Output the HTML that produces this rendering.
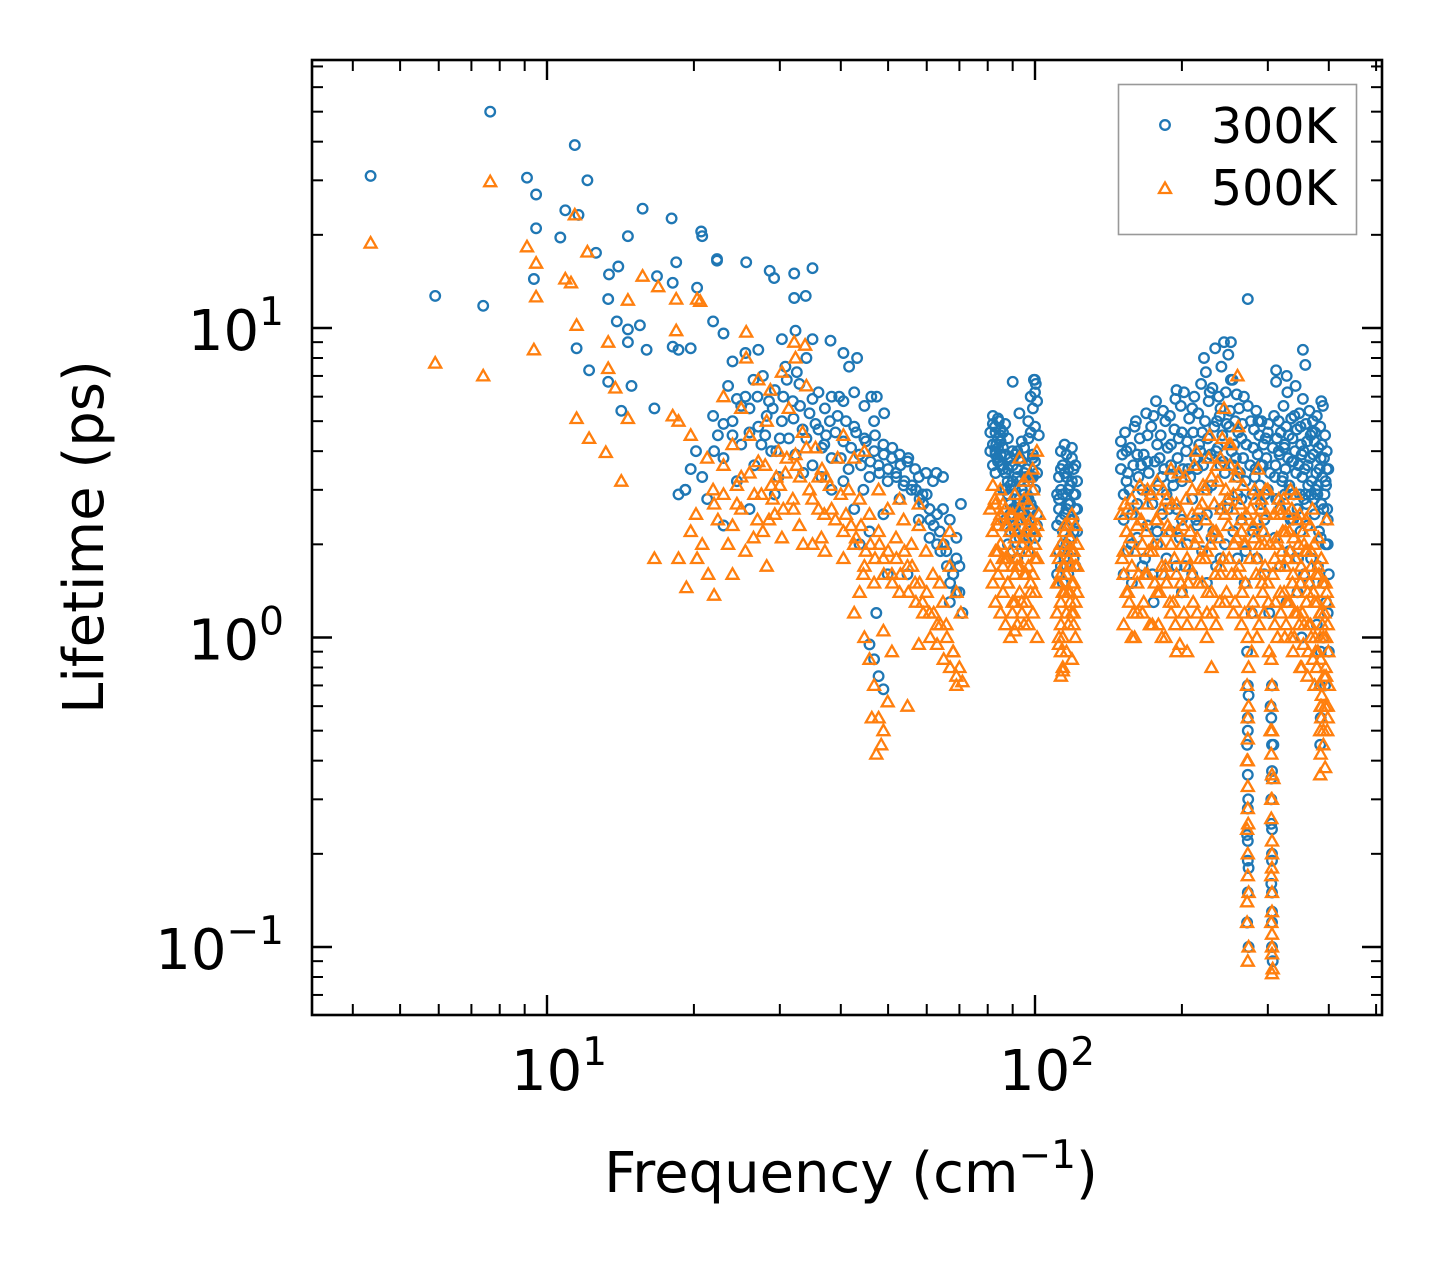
<!DOCTYPE html>
<html><head><meta charset="utf-8"><style>
html,body{margin:0;padding:0;background:#fff;}
svg{display:block;font-family:"DejaVu Sans","Liberation Sans",sans-serif;}
</style></head><body>
<svg id="chart" width="1442" height="1265" viewBox="0 0 1442 1265" xmlns="http://www.w3.org/2000/svg">
<rect width="1442" height="1265" fill="#fff"/>
<g id="marks"></g>
<g id="ticks"></g>
<rect x="312" y="60" width="1070" height="955" fill="none" stroke="#000" stroke-width="2.6"/>
<g id="labels" font-size="56" fill="#000"></g>
<text x="851" y="1192" font-size="56" text-anchor="middle">Frequency (cm<tspan dy="-24" font-size="39">−1</tspan><tspan dy="24">)</tspan></text>
<text transform="translate(103,537) rotate(-90)" font-size="56" text-anchor="middle">Lifetime (ps)</text>
<g>
<rect x="1118.5" y="84.5" width="238" height="150" fill="#fff" stroke="#999" stroke-width="1.6"/>
<circle cx="1165" cy="125" r="4.8" fill="none" stroke="#1f77b4" stroke-width="2.3"/>
<text x="1211" y="143" font-size="49">300K</text>
<polygon points="1165,182.5 1171,193 1159,193" fill="none" stroke="#ff7f0e" stroke-width="2.3"/>
<text x="1211" y="205" font-size="49">500K</text>
</g>
</svg>
<script>
const xMajorTicks = [10, 100];
const xMajorLabels = ["1", "2"];
const xMinorTicks = [4,5,6,7,8,9,20,30,40,50,60,70,80,90,200,300,400,500];
const yMajorTicks = [0.1, 1, 10];
const yMajorLabels = ["−1", "0", "1"];
const yMinorTicks = [0.07,0.08,0.09,0.2,0.3,0.4,0.5,0.6,0.7,0.8,0.9,2,3,4,5,6,7,8,9,20,30,40,50,60,70];

const blueSparse = [[4.35,31],[5.9,12.7],[7.4,11.8],[7.65,50],[9.1,30.6],[9.5,27],[9.4,14.4],[9.5,21],[10.65,19.6],[10.9,24],[11.4,39],[11.6,23.2],[11.5,8.6],[12.1,30],[12.2,7.3],[12.6,17.5],[13.4,14.9],[13.35,12.4],[14,15.8],[13.9,10.5],[13.35,6.7],[14.2,5.4],[14.65,9.9],[14.65,9.0],[15.7,24.3],[14.65,19.8],[16.8,14.7],[18.1,14],[18,22.6],[18.4,16.3],[20.3,13.5],[20.7,20.5],[20.8,19.8],[22.3,16.5],[22.3,16.7],[25.6,16.3],[28.6,15.3],[29.2,14.5],[32.1,15],[35,15.6],[32.1,12.5],[33.9,12.7],[35,9.2],[38.1,9.1],[40.5,8.3],[43.2,8],[41.6,7.5],[39.7,6],[46.2,6],[49.1,5.3],[47.4,6],[99.5,6.8],[90,6.7],[273,12.4],[252,9],[273,5.6],[354,8.5],[358,7.6],[312,7.3],[312,6.7]];
const blueLow = [[21.9,5.2],[22.4,4.5],[23,3.8],[23.5,6.5],[24,5],[24.5,3.2],[25,4.2],[25.5,6],[26,5.5],[26.6,3.6],[27.1,4.8],[27.7,7],[28.2,5.2],[28.8,4],[29.3,6.3],[29.8,3.3],[30.3,5],[30.8,7.5],[31.3,4.4],[31.9,5.8],[32.3,3.9],[32.9,6.6],[33.4,4.7],[34,8],[34.5,5.3],[35,3.6],[35.5,4.9],[36,6.2],[36.6,4.1],[37.1,5.5],[20.8,3.3],[20.2,4],[19.7,3.5],[19.2,3],[21.3,2.8],[23,2.3],[26,2.6],[29.3,2.9],[24,7.8],[27.1,8.5],[30.3,9.2],[32.3,9.8],[18.6,8.5],[19.7,8.6],[18.1,8.7],[21.9,10.5],[23,9.6],[25.5,8.3],[16.6,5.5],[16,8.5],[15.5,10.2],[14.9,6.5],[18.6,2.9],[19.2,3],
[37.3,4.5],[38.3,3.8],[39.4,5.2],[40.5,4.3],[41.5,3.5],[42.6,4.8],[43.7,3.9],[44.7,4.4],[45.8,3.3],[46.8,4],[47.8,3.6],[48.9,4.2],[49.9,3.2],[50.9,3.8],[51.9,3.4],[52.8,3.9],[53.8,3.1],[54.8,3.7],[55.8,3],[56.8,3.5],[57.8,3.3],[58.8,2.9],[59.8,3.4],[60.8,2.6],[61.8,3.2],[63,2.5],[38.3,6],[40.5,5.8],[42.6,6.2],[44.7,5.6],[46.8,5],[38.3,3],[42.6,2.6],[45.8,2.2],[48.9,2.5],[52.8,2.8],[57.8,2.4],[45.8,0.95],[46.8,0.85],[47.8,0.75],[48.9,0.68],[47.3,1.2],[49.9,1.6],[43.7,2],[54.8,1.6],[60.8,2.1],
[63.8,2.2],[64.8,2.6],[65.8,1.9],[66.9,2.4],[67.9,1.6],[69,2.1],[70,1.4],[70.5,2.7],[69,1.8],[66.9,1.3],[71,1.2],[64.8,3.3],[62.8,3.4],
[22,4.0],[23,4.9],[24,4.5],[25,5.6],[26,4.6],[27,6.0],[28,4.5],[29,5.5],[30,4.4],[31,6.8],[32,5.1],[33,5.6],[34,4.4],[35,5.9],[36,4.7],[37,4.2],[38,5.0],[39,4.6],[40,3.8],[41,5.0],[42,4.1],[43,4.6],[44,3.6],[45,4.3],[46,3.7],[47,4.5],[48,3.4],[49,3.9],[50,3.5],[51,4.1],[52,3.3],[53,3.6],[54,3.2],[55,3.8],[56,3.1],[57,3.0],[58,2.8],[59,2.7],[60,2.9],[61,2.4],[62,2.3],[63,2.0],[64,1.9],[65,2.0],[66,1.7],[67,1.5],[68,1.6],[69,1.4],[70,1.7],[24.5,5.9],[26.5,6.8],[28.5,5.8],[30.5,6.0],[32.5,7.2],[27.5,4.2],[29.5,4.0],[33.5,3.4],[36.5,3.3],[40.5,3.2],[44.5,3.0]];
const blueMid = [[82.8,4.8],[83.3,4.2],[83.8,3.8],[84.3,5],[84.9,4.5],[85.9,3.6],[86.9,4.9],[87.9,3.2],[88.9,2.5],[89.9,4],[90.9,2.2],[91.9,3.5],[92.9,2.8],[93.9,4.3],[94.9,2],[95.9,3.3],[96.9,5],[97.9,2.6],[98.9,3.8],[99.9,6.8],[100.9,2.3],[101.8,4.5],[100.4,6.6],[92.9,5.3],
[82,3.6],[82,4.2],[82,4.9],[83,3.4],[83,4.0],[83,4.6],[84,3.7],[84,4.4],[84,5.1],[85,3.9],[85,4.7],[86,3.0],[86,4.1],[87,2.4],[87,3.4],[88,2.0],[88,2.9],[88,4.4],[89,2.2],[89,3.1],[90,1.9],[90,2.6],[90,3.6],[91,2.3],[91,3.0],[92,1.8],[92,2.7],[92,4.0],[93,2.1],[93,3.2],[94,2.5],[94,3.7],[95,2.0],[95,2.9],[96,2.4],[96,3.5],[97,1.9],[97,2.8],[98,2.2],[98,3.3],[98,4.6],[99,2.6],[99,3.9],[100,2.1],[100,3.0],[101,2.5],[101,5.8],[100,6.2],
[81,4.0],[81,4.6],[82,5.2],[83,3.9],[84,4.1],[85,4.3],[85,3.6],[86,3.5],[86,4.6],[87,3.0],[87,3.9],[88,3.5],[89,2.7],[89,3.8],[90,3.2],[91,2.6],[91,3.9],[92,3.3],[93,2.5],[93,3.8],[94,3.0],[95,3.4],[95,4.1],[96,2.8],[97,3.2],[97,4.4],[98,2.7],[99,3.3],[100,3.7],[100,4.8],[101,3.4],[99,5.5],[98,6.0],
[112,2.8],[113,3.5],[114,2],[115,4.2],[116,1.7],[117,3],[118,2.4],[119,3.8],[120,1.8],[121,2.6],[122,3.2],[114,1.5],[120,2.2],
[111,1.6],[111,2.3],[112,1.9],[112,2.6],[113,1.7],[113,3.0],[114,2.2],[114,3.6],[115,1.8],[115,2.5],[116,2.0],[116,3.3],[117,1.6],[117,2.7],[118,2.1],[118,3.1],[119,1.9],[119,4.1],[120,2.4],[120,3.5],[121,1.7],[121,2.9],[122,2.2],
[111,2.9],[112,3.3],[113,2.4],[114,2.9],[115,3.4],[116,2.6],[117,3.5],[118,2.7],[119,3.2],[120,2.9],[121,3.6],[122,2.6],[116,3.9],[113,4.0]];
const blueHigh = [[150,4.3],[150,3.5],[152,2.4],[154,4.0],[156,3.0],[158,2.0],[160,4.8],[162,2.7],[165,3.6],[168,1.8],[170,4.5],[172,2.9],[175,5.2],[178,2.2],[180,3.8],[182,1.6],[185,5.0],[188,2.6],[190,4.2],[192,3.1],[195,6.3],[198,2.1],[200,4.6],[203,1.7],[206,3.5],[210,5.5],[214,2.4],[218,4.0],[222,8.0],[225,3.0],[228,6.2],[232,2.2],[236,5.0],[240,3.6],[244,9.0],[248,2.6],[252,6.8],[256,4.2],[260,3.3],[225,1.5],[240,1.8],[200,1.4],[175,1.3],
[265,2.8],[269,1.5],[272,0.9],[273,0.5],[273.5,0.3],[274,0.18],[274,0.1],[273,0.7],[278,1.2],[283,3.5],[287,5],[292,2.2],[297,4.4],[302,1.2],[304,0.6],[305,0.35],[306,0.2],[306,0.12],[307,0.09],[306,0.15],[308,0.45],[312,2.8],[316,4],[305,0.25],[273,0.22],
[322,3.3],[328,7],[334,2.4],[340,5.2],[346,1.8],[352,3.9],[358,2.9],[364,1.5],[370,4.6],[376,3],[382,2.2],[386,5.8],[390,1],[393,0.7],[396,3.5],[398,2],[395,1.3],[378,1.1],[352,1],[328,1.3],
[152,1.6],[152,2.9],[155,1.9],[155,3.4],[158,1.5],[158,2.5],[162,2.1],[162,3.9],[166,1.7],[166,3.0],[170,2.3],[170,3.7],[174,1.6],[174,2.7],[178,2.0],[178,4.2],[182,2.5],[182,3.3],[186,1.8],[186,2.9],[190,2.2],[190,3.6],[195,1.7],[195,2.6],[200,2.4],[200,3.2],[205,2.0],[205,4.3],[210,1.6],[210,2.8],[215,2.3],[215,3.5],[220,1.9],[220,4.6],[225,2.5],[225,3.8],[230,2.1],[230,3.1],[235,1.7],[235,4.0],[240,2.6],[240,5.5],[245,2.0],[245,3.4],[250,2.8],[250,4.8],[255,2.2],[255,3.6],[260,1.8],[260,2.9],[265,2.4],[265,4.4],[270,1.9],[270,3.2],[280,2.2],[280,4.1],[285,1.8],[290,2.7],[290,3.6],[295,1.6],[295,2.4],[300,3.0],[300,4.6],[310,2.1],[310,3.3],[318,1.7],[318,2.6],[325,2.9],[325,4.2],[332,1.9],[332,3.1],[338,2.4],[338,3.7],[345,1.4],[345,2.6],[350,2.2],[350,4.8],[356,1.6],[356,2.8],[362,2.3],[362,3.6],[368,1.8],[368,2.9],[374,2.5],[374,4.3],[380,1.7],[380,3.1],[385,2.1],[385,3.8],[390,1.5],[390,2.6],[394,2.0],[394,3.2],[398,1.2],[398,2.4],[400,0.9],[400,1.6],
[272,0.12],[273,0.15],[273,0.19],[272,0.23],[273,0.28],[273,0.36],[272,0.45],[273,0.55],[274,0.65],[306,0.1],[306,0.13],[305,0.16],[306,0.19],[306,0.24],[305,0.3],[306,0.37],[306,0.45],[305,0.55],[306,0.7],[384,0.45],[385,0.55],[384,0.7],[385,0.9]];
const blueHighExtra = [[151,3.9],[153,4.6],[154,3.2],[157,4.1],[159,3.6],[161,5.0],[163,3.3],[164,4.4],[167,3.9],[169,5.3],[171,3.4],[173,4.8],[176,3.7],[177,5.8],[179,3.1],[181,4.5],[183,5.4],[184,3.5],[187,4.1],[189,5.2],[191,3.3],[193,4.7],[194,5.9],[196,3.8],[197,4.4],[199,5.6],[201,3.5],[202,6.2],[204,4.0],[207,5.1],[208,3.3],[211,4.6],[212,6.0],[213,3.8],[216,5.3],[217,4.2],[219,6.6],[221,3.6],[223,5.0],[224,7.2],[226,4.4],[227,5.8],[229,3.9],[231,6.4],[233,4.8],[234,8.6],[237,4.1],[238,6.0],[239,5.2],[241,7.5],[242,4.5],[243,3.7],[246,6.2],[247,4.9],[249,8.2],[251,5.4],[253,4.0],[254,6.8],[257,5.0],[258,3.8],[259,6.1],[261,4.6],[262,5.5],[263,3.4],[266,4.9],[267,3.8],[268,6.0],[271,4.2],[276,3.6],[277,5.0],[279,2.9],[281,4.7],[282,3.3],[284,5.4],[286,3.9],[288,4.5],[289,3.1],[291,5.0],[293,3.6],[294,4.2],[296,2.9],[298,3.8],[301,4.9],[303,3.4],[307,4.1],[309,5.2],[311,3.6],[313,4.4],[314,2.8],[316,5.0],[317,3.9],[319,4.6],[321,3.2],[323,5.6],[324,4.1],[326,3.5],[327,4.8],[329,6.2],[330,3.8],[331,4.5],[333,3.0],[335,5.1],[336,3.7],[337,4.4],[339,2.9],[341,4.0],[342,6.5],[343,3.4],[344,4.7],[347,3.6],[348,5.3],[349,2.9],[351,4.2],[353,3.3],[354,5.9],[355,4.0],[357,3.5],[359,4.9],[360,2.7],[361,4.3],[363,3.1],[365,5.4],[366,3.8],[367,4.5],[369,3.2],[371,5.0],[372,3.9],[373,2.8],[375,4.6],[377,3.4],[378,5.2],[379,2.9],[381,4.1],[383,3.5],[384,4.8],[386,2.7],[387,4.2],[388,3.3],[389,5.6],[391,3.8],[392,2.9],[393,4.5],[395,3.1],[396,4.0],[397,2.6],[399,3.5]];

const orangeSparse = [[4.35,18.8],[5.9,7.7],[7.4,7],[7.65,29.7],[9.1,18.3],[9.4,8.5],[9.5,16.2],[9.5,12.6],[10.9,14.4],[11.2,14],[11.4,23.2],[12.1,17.6],[11.5,10.2],[11.5,5.1],[12.2,4.4],[13.2,3.96],[14.2,3.2],[13.35,9],[13.35,7.4],[13.8,6.4],[14.65,12.3],[14.65,5.1],[15.7,14.7],[16.9,13.6],[18.4,12.4],[18.4,9.8],[20.3,12.4],[20.6,12.2],[25.6,9.7],[28.7,6.3],[25.6,8],[32.1,9],[33.8,8.8],[16.6,1.8],[19.3,1.45],[22,1.37],[21.4,1.6],[20.3,1.8]];
const orangeLow = [[21.9,3],[22.4,2.4],[23,3.6],[23.5,2],[24,4.2],[24.5,2.7],[25,3.3],[25.5,1.9],[26,4.5],[26.6,2.9],[27.1,3.7],[27.7,2.2],[28.2,5],[28.8,3.1],[29.3,2.5],[29.8,4],[30.3,2.1],[30.8,3.4],[31.3,5.5],[31.9,2.8],[32.3,3.9],[32.9,2.3],[33.4,4.6],[34,6.5],[34.5,3],[35,2],[35.5,4.1],[36,2.6],[36.6,3.5],[37.1,1.9],[19.7,2.2],[20.2,2.5],[20.8,2],[18.6,5],[18.1,5.2],[19.7,4.5],[21.3,3.8],[23,6],[25,5.5],[27.1,6.8],[30.3,7.2],[32.3,8],[18.6,1.8],[24,1.6],[28.2,1.7],
[37.3,3.3],[38.3,2.6],[39.4,3.8],[40.5,2.2],[41.5,3],[42.6,2],[43.7,2.8],[44.7,1.7],[45.8,2.5],[46.8,1.5],[47.8,2.2],[48.9,1.8],[49.9,2.6],[50.9,1.6],[51.9,2.1],[52.8,1.4],[53.8,2.4],[54.8,1.7],[55.8,2],[56.8,1.5],[57.8,2.3],[58.8,1.3],[59.8,1.9],[60.8,1.2],[61.8,1.6],[63,1.1],[40.5,4.5],[42.6,3.8],[44.7,4],[47.8,3],[52.8,2.8],[57.8,2.7],[42.6,1.2],[44.7,1],[45.8,0.85],[46.8,0.7],[47.8,0.55],[48.9,0.5],[47.3,0.42],[48.4,0.45],[46.3,0.55],[49.9,0.62],[50.9,0.9],[54.8,0.6],[43.7,1.4],[48.9,1.05],[57.8,0.95],
[63.8,1.5],[64.8,2],[65.8,1.1],[66.9,1.7],[67.9,0.9],[69,1.4],[70,0.8],[70.5,1.2],[69,0.75],[71,0.72],[64.8,1.3],[66.9,2.2],
[22,2.7],[23,2.9],[24,2.3],[25,2.6],[26,3.4],[27,2.4],[28,3.6],[29,2.8],[30,3.1],[31,3.8],[32,2.6],[33,3.3],[34,4.1],[35,2.8],[36,3.3],[37,2.5],[38,3.1],[39,2.4],[40,2.9],[41,2.5],[42,2.3],[43,2.1],[44,2.3],[45,1.9],[46,2.0],[47,1.8],[48,2.0],[49,1.6],[50,1.9],[51,1.5],[52,1.8],[53,1.6],[54,1.9],[55,1.4],[56,1.7],[57,1.3],[58,1.5],[59,1.2],[60,1.4],[61,1.0],[62,1.2],[63,0.95],[64,1.1],[65,0.85],[66,1.0],[67,0.8],[68,0.9],[69,0.7],[24.5,3.1],[26.5,2.1],[28.5,2.4],[30.5,2.6],[32.5,3.6],[27.5,2.9],[29.5,3.3],[33.5,2.0],[36.5,2.1],[40.5,1.8],[44.5,1.6]];
const orangeMid = [[82.8,2.8],[83.8,2.3],[84.9,3],[85.9,1.8],[86.9,2.6],[87.9,1.5],[88.9,2.2],[89.9,1.2],[90.9,2.9],[91.9,1.7],[92.9,2.4],[93.9,1.3],[94.9,3.2],[95.9,1.9],[96.9,2.7],[97.9,1.4],[98.9,3.5],[99.9,2],[100.9,4],[101.8,2.5],[90.9,1.05],[92.9,3.8],
[82,1.5],[82,2.2],[83,1.3],[83,1.9],[84,1.6],[84,2.4],[85,1.2],[85,2.0],[86,1.4],[86,2.7],[87,1.1],[87,1.8],[88,1.5],[88,2.3],[89,1.0],[89,1.9],[90,1.3],[90,2.5],[91,1.6],[91,2.1],[92,1.1],[92,1.8],[93,1.4],[93,2.6],[94,1.2],[94,2.0],[95,1.6],[95,2.8],[96,1.3],[96,2.2],[97,1.1],[97,1.7],[98,1.5],[98,2.4],[99,1.2],[99,3.0],[100,1.4],[100,2.2],[101,1.0],[101,1.8],
[81,1.7],[81,2.6],[82,3.1],[83,2.7],[84,1.9],[85,2.5],[86,1.7],[87,2.3],[88,1.8],[89,2.5],[90,1.7],[91,1.3],[92,2.2],[93,1.7],[94,2.4],[95,2.1],[96,1.6],[97,2.3],[98,1.9],[99,1.6],[100,1.8],[101,2.3],[99,2.2],[97,3.3],[95,1.1],
[112,1],[113,1.6],[114,0.8],[115,2.2],[116,1.2],[117,1.9],[118,1.4],[119,2.5],[120,1.1],[121,1.7],[122,2],[113,0.75],
[111,1.2],[111,1.9],[112,0.95],[112,1.5],[113,1.3],[113,2.0],[114,1.0],[114,1.7],[115,1.4],[115,2.3],[116,0.9],[116,1.6],[117,1.1],[117,1.8],[118,1.3],[118,2.1],[119,0.85],[119,1.5],[120,1.2],[120,1.9],[121,1.0],[121,2.3],[122,1.4],[114,0.78],[113,0.9],
[111,1.5],[112,1.8],[113,1.1],[114,1.4],[115,1.7],[116,2.0],[117,1.4],[118,1.7],[119,1.2],[120,1.5],[121,1.3],[122,1.7],[117,2.3],[119,1.9]];
const orangeHigh = [[150,2.5],[152,1.6],[154,2.2],[156,1.3],[158,2.8],[160,1.9],[162,1.2],[165,2.4],[168,1.6],[170,3.0],[172,1.1],[175,2.0],[178,3.2],[180,1.4],[182,2.6],[185,1.0],[188,2.2],[190,3.5],[192,1.3],[195,2.7],[198,0.95],[200,2.0],[203,3.3],[206,1.5],[210,2.5],[214,4.0],[218,1.8],[222,3.0],[225,1.2],[228,4.5],[232,2.2],[236,3.6],[240,1.6],[244,5.5],[248,2.8],[252,4.2],[256,2.0],[260,7.0],[230,0.8],[185,1.7],[160,1.0],[205,0.9],
[265,2.2],[269,1.2],[272,0.7],[273,0.4],[273.5,0.25],[274,0.15],[274,0.1],[273,0.09],[273,0.55],[278,0.9],[283,2.8],[287,3.5],[292,1.5],[297,3],[302,0.9],[304,0.5],[305,0.3],[306,0.18],[306,0.11],[307,0.085],[306,0.082],[308,0.35],[312,2],[316,2.8],
[322,2.2],[328,1.3],[334,3],[340,1],[346,2.4],[352,0.8],[358,1.9],[364,1.1],[370,2.6],[376,0.9],[382,1.6],[386,0.55],[390,0.45],[393,0.38],[396,2.4],[398,1.3],[395,0.75],[398,0.6],
[152,1.1],[152,1.9],[155,1.4],[155,2.6],[158,1.0],[158,1.7],[162,1.5],[162,2.3],[166,1.2],[166,2.0],[170,1.6],[170,2.7],[174,1.1],[174,1.9],[178,1.4],[178,2.4],[182,1.0],[182,1.7],[186,1.5],[186,2.8],[190,1.2],[190,2.0],[195,0.9],[195,1.6],[200,1.4],[200,2.5],[205,1.1],[205,1.8],[210,1.6],[210,3.0],[215,1.2],[215,2.1],[220,1.5],[220,2.7],[225,1.0],[225,1.9],[230,1.4],[230,3.3],[235,1.1],[235,2.2],[240,1.7],[240,3.8],[245,1.3],[245,2.5],[250,1.8],[250,4.2],[255,1.2],[255,2.9],[260,1.6],[260,3.5],[265,1.1],[265,2.4],[270,1.5],[270,2.0],[280,1.3],[280,2.3],[285,1.0],[285,1.8],[290,1.6],[290,2.6],[295,1.2],[295,2.0],[300,1.5],[300,3.0],[310,1.1],[310,1.8],[318,1.4],[318,2.5],[325,1.0],[325,1.7],[332,1.3],[332,2.2],[338,0.9],[338,1.6],[345,1.2],[345,2.4],[350,0.8],[350,1.5],[356,1.1],[356,2.0],[362,0.75],[362,1.4],[368,1.0],[368,1.9],[374,0.7],[374,1.3],[380,0.9],[380,1.7],[385,0.6],[385,1.2],[390,0.5],[390,1.0],[394,0.8],[394,1.5],[398,0.55],[398,1.1],[400,0.7],
[272,0.12],[272,0.14],[273,0.17],[273,0.2],[272,0.24],[273,0.28],[273,0.33],[272,0.4],[273,0.47],[274,0.6],[274,0.8],[273,1.0],[306,0.095],[306,0.1],[305,0.12],[306,0.13],[306,0.15],[305,0.17],[306,0.2],[306,0.22],[305,0.26],[306,0.3],[306,0.36],[305,0.42],[306,0.5],[305,0.6],[306,0.7],[305,0.85],[384,0.36],[385,0.42],[384,0.5],[386,0.6],[384,0.7],[385,0.85],[384,1.0]];
const orangeHighExtra = [[151,1.8],[153,2.7],[154,1.4],[157,2.1],[159,1.2],[161,2.5],[163,1.6],[164,3.1],[167,1.3],[169,2.2],[171,1.9],[173,2.9],[176,1.5],[177,2.4],[179,1.1],[181,2.0],[183,3.0],[184,1.6],[187,2.3],[189,1.3],[191,2.7],[193,1.8],[194,1.1],[196,2.2],[197,3.4],[199,1.5],[201,2.3],[202,1.2],[204,2.8],[207,1.7],[208,2.2],[211,1.3],[212,3.6],[213,2.0],[216,1.5],[217,2.6],[219,1.1],[221,3.1],[223,1.8],[224,2.4],[226,1.4],[227,3.8],[229,2.0],[231,1.2],[233,2.7],[234,1.6],[237,3.2],[238,2.1],[239,1.3],[241,2.6],[242,4.4],[243,1.8],[246,3.0],[247,1.4],[249,2.3],[251,3.6],[253,1.6],[254,2.6],[257,1.3],[258,3.3],[259,2.1],[261,4.8],[262,1.7],[263,2.7],[266,1.4],[267,3.1],[268,2.0],[271,2.5],[276,1.8],[277,2.6],[279,1.2],[281,2.1],[282,3.0],[284,1.6],[286,2.4],[288,1.1],[289,2.0],[291,2.8],[293,1.4],[294,2.2],[296,1.7],[298,2.5],[301,1.3],[303,2.0],[307,1.6],[309,2.5],[311,1.3],[313,2.1],[314,1.0],[316,1.7],[317,2.6],[319,1.2],[321,1.9],[323,2.8],[324,1.4],[326,2.2],[327,1.1],[329,1.8],[330,2.5],[331,1.3],[333,1.9],[335,1.0],[336,2.6],[337,1.5],[339,2.1],[341,1.2],[342,1.8],[343,2.9],[344,1.4],[347,2.0],[348,1.1],[349,2.5],[351,1.7],[353,1.2],[354,2.2],[355,0.95],[357,1.6],[359,2.4],[360,1.3],[361,1.9],[363,0.9],[365,1.5],[366,2.3],[367,1.1],[369,1.7],[371,0.85],[372,1.4],[373,2.0],[375,1.0],[377,1.6],[378,0.8],[379,1.3],[381,2.1],[383,0.7],[384,1.2],[386,1.8],[387,0.65],[388,1.1],[389,1.5],[391,0.75],[392,1.2],[393,0.6],[395,1.0],[396,1.4],[397,0.5],[399,0.9]];

const NS = "http://www.w3.org/2000/svg";
const X0 = 547, XD = 488, Y0 = 637.5, YD = 309.5;
function xs(f){ return X0 + XD*(Math.log10(f) - 1); }
function ys(v){ return Y0 - YD*Math.log10(v); }

const marks = document.getElementById('marks');
const gBlue = document.createElementNS(NS,'g');


gBlue.setAttribute('fill','none'); gBlue.setAttribute('stroke','#1f77b4'); gBlue.setAttribute('stroke-width','2.3');
marks.appendChild(gBlue);
const gOr = document.createElementNS(NS,'g');


gOr.setAttribute('fill','none'); gOr.setAttribute('stroke','#ff7f0e'); gOr.setAttribute('stroke-width','2.3');
marks.appendChild(gOr);

[blueSparse, blueLow, blueMid, blueHigh, blueHighExtra].forEach(arr => arr.forEach(p => {
  const c = document.createElementNS(NS,'circle');
  c.setAttribute('cx', xs(p[0]).toFixed(1));
  c.setAttribute('cy', ys(p[1]).toFixed(1));
  c.setAttribute('r', '4.8');
  
  
  gBlue.appendChild(c);
}));
[orangeSparse, orangeLow, orangeMid, orangeHigh, orangeHighExtra].forEach(arr => arr.forEach(p => {
  const x = xs(p[0]), y = ys(p[1]);
  const t = document.createElementNS(NS,'polygon');
  t.setAttribute('points', `${x.toFixed(1)},${(y-6).toFixed(1)} ${(x+6).toFixed(1)},${(y+4.5).toFixed(1)} ${(x-6).toFixed(1)},${(y+4.5).toFixed(1)}`);
  
  
  gOr.appendChild(t);
}));

const ticks = document.getElementById('ticks');
function line(x1,y1,x2,y2,w,name){
  const l = document.createElementNS(NS,'line');
  l.setAttribute('x1',x1); l.setAttribute('y1',y1); l.setAttribute('x2',x2); l.setAttribute('y2',y2);
  l.setAttribute('stroke','#000'); l.setAttribute('stroke-width',w);
  
  
  ticks.appendChild(l);
}
const L=312, R=1382, T=60, B=1015;
xMajorTicks.forEach(f => { const x = xs(f); line(x,B,x,B-20,2.4,'x-major-tick'); line(x,T,x,T+20,2.4,'x-major-tick-top'); });
xMinorTicks.forEach(f => { const x = xs(f); if (x<=L+1||x>=R-1) return; line(x,B,x,B-11,2,'x-minor-tick'); line(x,T,x,T+11,2,'x-minor-tick-top'); });
yMajorTicks.forEach(v => { const y = ys(v); line(L,y,L+20,y,2.4,'y-major-tick'); line(R,y,R-20,y,2.4,'y-major-tick-right'); });
yMinorTicks.forEach(v => { const y = ys(v); if (y<=T+1||y>=B-1) return; line(L,y,L+11,y,2,'y-minor-tick'); line(R,y,R-11,y,2,'y-minor-tick-right'); });

const labels = document.getElementById('labels');
xMajorTicks.forEach((f,i) => {
  const t = document.createElementNS(NS,'text');
  t.setAttribute('x', xs(f)+12); t.setAttribute('y', 1090); t.setAttribute('text-anchor','middle');
  
  
  t.innerHTML = `10<tspan dy="-25" font-size="39">${xMajorLabels[i]}</tspan>`;
  labels.appendChild(t);
});
yMajorTicks.forEach((v,i) => {
  const t = document.createElementNS(NS,'text');
  t.setAttribute('x', 284); t.setAttribute('y', ys(v)+22); t.setAttribute('text-anchor','end');
  
  
  t.innerHTML = `10<tspan dy="-25" font-size="39">${yMajorLabels[i]}</tspan>`;
  labels.appendChild(t);
});
</script>
</body></html>
